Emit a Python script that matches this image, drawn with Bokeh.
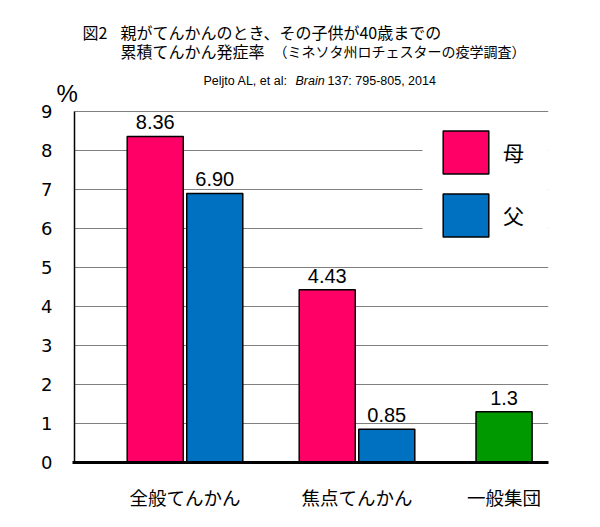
import numpy as np
from bokeh.plotting import figure
from bokeh.core.properties import value
from bokeh.models import (Range1d, FixedTicker, ColumnDataSource, LabelSet, Grid,
                          Legend, LegendItem, BoxAnnotation)
from bokeh.embed import file_html
from bokeh.resources import INLINE

# ---- data ----
categories = ["全般てんかん", "焦点てんかん", "一般集団"]
series_names = ["母", "父"]
mother = [8.36, 4.43]
father = [6.90, 0.85]
general = [1.3]
y_ticks = [0, 1, 2, 3, 4, 5, 6, 7, 8, 9]
title_fig = "図2"
title_line1 = "親がてんかんのとき、その子供が40歳までの"
title_line2 = "累積てんかん発症率"
title_note = "（ミネソタ州ロチェスターの疫学調査）"
cite_a = "Peljto AL, et al:"
cite_b = "Brain"
cite_c = "137: 795-805, 2014"
unit_label = "%"

# ---- style / layout ----
PINK = "#FF0066"
BLUE = "#0070C0"
GREEN = "#009900"
JP = "Noto Sans CJK JP"
LAT = "Liberation Sans"
OFF = 0.173
BAR_W = 0.326
GEN_SHIFT = -0.145

# page-pixel layout
W, H = 592, 519
F_LEFT, F_RIGHT, F_TOP, F_BOTTOM = 40, 548, 10, 472
ZERO_PX = 462         # page y of value 0
AXIS_PX = 74          # page x of the value axis
CAT0_PX = 184.5       # page x of first category centre
PX_X, PX_Y = 172.0, 39.0

def dx(px):
    return (px - CAT0_PX) / PX_X

def dy(py):
    return (ZERO_PX - py) / PX_Y

idx_m = np.arange(len(mother))
idx_f = np.arange(len(father))
idx_g = np.arange(len(general)) + 2

src_m = ColumnDataSource(dict(x=idx_m - OFF, top=mother, lab=[f"{v:.2f}" for v in mother]))
src_f = ColumnDataSource(dict(x=idx_f + OFF, top=father, lab=[f"{v:.2f}" for v in father]))
src_g = ColumnDataSource(dict(x=idx_g + GEN_SHIFT, top=general, lab=[f"{v:.1f}" for v in general]))

p = figure(width=W, height=H, output_backend="svg", toolbar_location=None,
           x_range=Range1d(dx(F_LEFT), dx(F_RIGHT)), y_range=Range1d(dy(F_BOTTOM), dy(F_TOP)),
           min_border_left=F_LEFT, min_border_right=W - F_RIGHT,
           min_border_top=F_TOP, min_border_bottom=H - F_BOTTOM)
p.outline_line_color = None
p.background_fill_color = "white"
p.border_fill_color = "white"

r_m = p.vbar(x="x", top="top", bottom=0, width=BAR_W, source=src_m, fill_color=PINK,
             line_color="black", line_width=1.5)
r_f = p.vbar(x="x", top="top", bottom=0, width=BAR_W, source=src_f, fill_color=BLUE,
             line_color="black", line_width=1.5)
p.vbar(x="x", top="top", bottom=0, width=BAR_W, source=src_g, fill_color=GREEN,
       line_color="black", line_width=1.5)

for src in (src_m, src_f, src_g):
    p.add_layout(LabelSet(x="x", y="top", text="lab", source=src, text_align="center",
                          text_baseline="alphabetic", y_offset=7, text_font=value(LAT),
                          text_font_size=value("20px"), text_color="black"))

# grid lines (gray) and baseline (thick black) limited to the plot area
p.xgrid.visible = False
p.ygrid.grid_line_color = "#808080"
p.ygrid.grid_line_width = 1
p.ygrid.ticker = FixedTicker(ticks=y_ticks[1:])
p.ygrid.cross_bounds = (dx(AXIS_PX), dx(F_RIGHT))
p.add_layout(Grid(dimension=1, ticker=FixedTicker(ticks=[0]), grid_line_color="black",
                  grid_line_width=3, cross_bounds=(dx(AXIS_PX - 2), dx(F_RIGHT)),
                  level="overlay"))

# value axis standing inside the frame
p.yaxis.ticker = FixedTicker(ticks=y_ticks)
p.yaxis.fixed_location = dx(AXIS_PX)
p.yaxis.bounds = (0, 9)
p.yaxis.axis_line_color = "black"
p.yaxis.axis_line_width = 1.5
p.yaxis.major_tick_line_color = None
p.yaxis.minor_tick_line_color = None
p.yaxis.major_label_standoff = 16
p.yaxis.major_label_text_font = "DejaVu Sans"
p.yaxis.major_label_text_font_size = "18px"
p.yaxis.major_label_text_color = "black"

# category axis
cat_pos = [0.0, 1.0, float(idx_g[0] + GEN_SHIFT)]
p.xaxis.ticker = FixedTicker(ticks=cat_pos)
p.xaxis.major_label_overrides = {cat_pos[i]: categories[i] for i in range(3)}
p.xaxis.axis_line_color = None
p.xaxis.major_tick_line_color = None
p.xaxis.minor_tick_line_color = None
p.xaxis.major_label_standoff = 5
p.xaxis.major_label_text_font = JP
p.xaxis.major_label_text_font_size = "18.5px"
p.xaxis.major_label_text_color = "black"

# legend with white cover
p.add_layout(BoxAnnotation(left=dx(422), right=dx(F_RIGHT), top=dy(118), bottom=dy(250),
                           fill_color="white", fill_alpha=1, line_color=None))
legend = Legend(items=[LegendItem(label=series_names[0], renderers=[r_m]),
                       LegendItem(label=series_names[1], renderers=[r_f])],
                location=(437 - F_LEFT, 220 - (F_BOTTOM - ZERO_PX) * -1), padding=0, spacing=9,
                glyph_width=57, glyph_height=54, label_height=54, label_standoff=9,
                label_text_font=JP, label_text_color="black", label_text_font_size="21px",
                background_fill_alpha=0, border_line_alpha=0)
p.add_layout(legend)

# titles, citation, unit
def ptext(txt, px, py, size, font=JP, style="normal"):
    p.text(x=[dx(px)], y=[dy(py)], text=[txt], text_font=value(font),
           text_font_size=value(size), text_font_style=style, text_baseline="middle",
           text_align="left", text_color="black")

ptext(title_fig, 82, 31, "16px")
ptext(title_line1, 120, 31, "16px")
ptext(title_line2, 120, 50, "16px")
ptext(title_note, 273, 50, "14px")
ptext(cite_a, 203, 80, "12.5px", LAT)
ptext(cite_b, 295, 80, "12.5px", LAT, "italic")
ptext(cite_c, 327, 80, "12.5px", LAT)
ptext(unit_label, 56, 93, "24px", LAT)

open("out.html", "w").write(file_html(p, INLINE))
